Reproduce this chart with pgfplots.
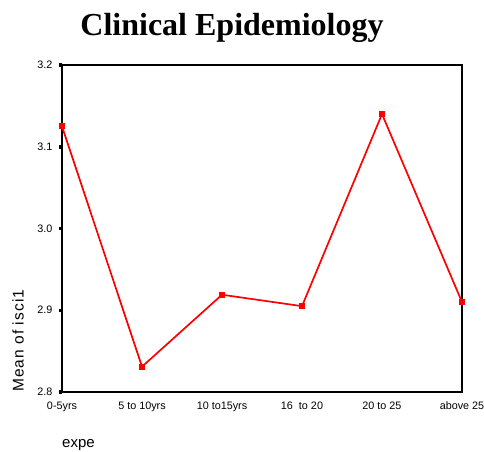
\documentclass[border=0pt]{standalone}
\usepackage{pgfplots}
\pgfplotsset{compat=1.18}
\usepackage{fontspec}
\setmainfont{Liberation Sans}
\newfontfamily\titlefont{Liberation Serif}
\newfontfamily\labelfont[LetterSpace=7]{Liberation Sans}
\definecolor{spssred}{RGB}{255,0,0}

\begin{document}
\begin{tikzpicture}[x=1pt,y=1pt]
	\useasboundingbox (-62,-59) rectangle (422,392);
	\begin{axis}[
		at={(0,0)}, anchor=origin,
		scale only axis,
		width=400pt, height=327pt,
		xmin=0, xmax=5,
		ymin=2.8, ymax=3.2,
		xtick={0,1,2,3,4,5},
		xticklabels={0-5yrs, 5 to 10yrs, 10 to15yrs, 16\ \ to 20, 20 to 25, above 25},
		ytick={2.8,2.9,3.0,3.1,3.2},
		ytick pos=left,
		yticklabel style={/pgf/number format/.cd, fixed, fixed zerofill, precision=1},
		xticklabel style={text height=8pt, text depth=2pt},
		/pgf/number format/assume math mode=true,
		ticklabel style={font=\fontsize{10.8}{13}\selectfont},
		xtick style={draw=none},
		ytick style={line width=3.5pt, black},
		tick align=outside,
		major tick length=3pt,
		yticklabel shift=3pt,
		xticklabel shift=3pt,
		axis line style={line width=1.8pt, black},
		clip=false,
		]
	\addplot[color=spssred, line width=1.7pt, mark=square*, mark size=2.2pt,
		mark options={fill=spssred}] coordinates
		{(0, 3.125) (1, 2.831) (2, 2.919) (3, 2.905) (4, 3.140) (5, 2.910)};
	\end{axis}
	% labels and title
	\node[anchor=base, font=\titlefont\bfseries\fontsize{32}{36}\selectfont] at (170,356) {Clinical Epidemiology};
	\node[rotate=90, anchor=south west, font=\labelfont\fontsize{15.5}{17}\selectfont, inner sep=0pt] at (-38,0) {Mean of isci1};
	\node[anchor=base west, font=\fontsize{15}{17}\selectfont, inner sep=0pt] at (0,-55) {expe};
\end{tikzpicture}
\end{document}
